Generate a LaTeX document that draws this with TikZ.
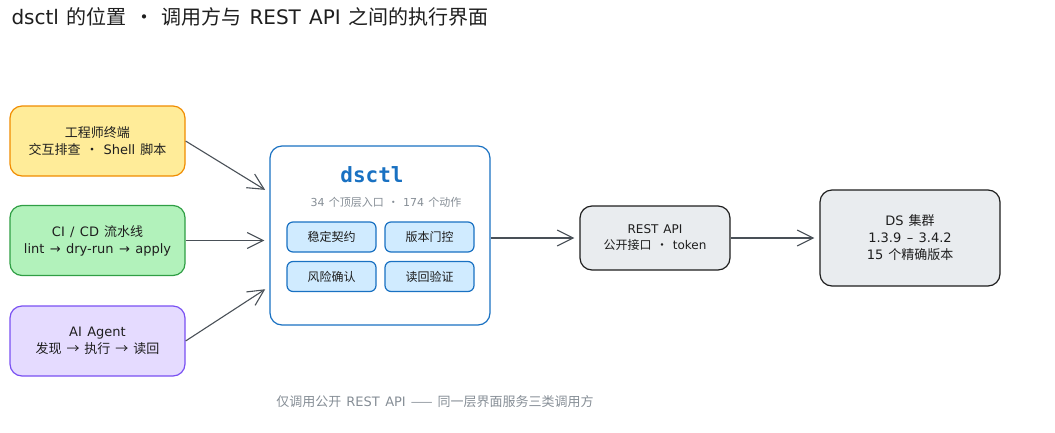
\documentclass[tikz,border=0pt]{standalone}
\usepackage{fontspec}
\setmainfont{Noto Sans CJK SC}[WordSpace=1.7]
\newfontfamily\codefont{DejaVu Sans Mono}
\newfontfamily\latfont{DejaVu Sans}[WordSpace=1.3]
\newcommand{\lat}[1]{{\latfont #1}}
\usetikzlibrary{arrows.meta,positioning}

\newlength{\du}
\setlength{\du}{1pt}

\definecolor{inkcolor}{HTML}{1E1E1E}
\definecolor{arrowcolor}{HTML}{495057}
\definecolor{notecolor}{HTML}{868E96}
\definecolor{termfill}{HTML}{FFEC99}
\definecolor{termline}{HTML}{F08C00}
\definecolor{cifill}{HTML}{B2F2BB}
\definecolor{ciline}{HTML}{2F9E44}
\definecolor{agentfill}{HTML}{E5DBFF}
\definecolor{agentline}{HTML}{7950F2}
\definecolor{ctlline}{HTML}{1971C2}
\definecolor{ctlfill}{HTML}{D0EBFF}
\definecolor{apifill}{HTML}{E9ECEF}

\tikzset{
  card/.style={draw, rounded corners=12pt, line width=1.2pt, align=center,
    inner sep=0pt, text=inkcolor, font=\fontsize{13}{17}\selectfont},
  feature/.style={card, rounded corners=6pt, fill=ctlfill, draw=ctlline,
    minimum width=89pt, minimum height=30pt, font=\fontsize{12}{14}\selectfont},
  flow/.style={draw=arrowcolor, line width=1.1pt,
    -{Straight Barb[length=16pt,width=16pt]}, shorten >=5pt},
}

\begin{document}
\begin{tikzpicture}[x=\du,y=-\du]
\useasboundingbox (0,0) rectangle (1055,432);
% title
\node[anchor=west, text=inkcolor, font=\fontsize{20}{22}\selectfont] (title) at (8,17)
  {\lat{dsctl} 的位置 · 调用方与 \lat{REST API} 之间的执行界面};
% callers
\node[card, fill=termfill, draw=termline, minimum width=175pt, minimum height=70pt]
  (term) at (97.5,141) {工程师终端\\交互排查 · \lat{Shell} 脚本};
\node[card, fill=cifill, draw=ciline, minimum width=175pt, minimum height=70pt]
  (ci) at (97.5,240.5) {\lat{CI / CD} 流水线\\\lat{lint → dry-run → apply}};
\node[card, fill=agentfill, draw=agentline, minimum width=175pt, minimum height=70pt]
  (agent) at (97.5,341) {\lat{AI Agent}\\发现 → 执行 → 读回};
% dsctl
\node[card, draw=ctlline, fill=white, minimum width=220pt, minimum height=179pt]
  (dsctl) at (380,235.5) {};
\node[text=ctlline, font=\codefont\bfseries\fontsize{21}{25}\selectfont] (ctlname)
  at (372,175) {dsctl};
\node[text=notecolor, font=\fontsize{11}{13}\selectfont] (ctlsub) at (386,202)
  {\lat{34} 个顶层入口 · \lat{174} 个动作};
\node[feature] (contract) at (331.5,237) {稳定契约};
\node[feature] (gate) at (429.5,237) {版本门控};
\node[feature] (risk) at (331.5,276.5) {风险确认};
\node[feature] (readback) at (429.5,276.5) {读回验证};
% api and cluster
\node[card, fill=apifill, draw=inkcolor, minimum width=150pt, minimum height=64pt,
  font=\fontsize{12}{16}\selectfont]
  (api) at (655,238) {\lat{REST API}\\公开接口 · \lat{token}};
\node[card, fill=apifill, draw=inkcolor, minimum width=180pt, minimum height=96pt]
  (cluster) at (910,238) {\lat{DS} 集群\\\lat{1.3.9 – 3.4.2}\\\lat{15} 个精确版本};
% connectors
\draw[flow] (term.east) -- ([yshift=43pt]dsctl.west);
\draw[flow] (ci.east) -- (ci.east -| dsctl.west);
\draw[flow] (agent.east) -- ([yshift=-51pt]dsctl.west);
\draw[flow] (dsctl.east |- api.west) -- (api.west);
\draw[flow] (api.east) -- (cluster.west);
% footnote
\node[text=notecolor, font=\fontsize{13}{15}\selectfont] (note) at (435,402)
  {仅调用公开 \lat{REST API} —— 同一层界面服务三类调用方};
\end{tikzpicture}
\end{document}
